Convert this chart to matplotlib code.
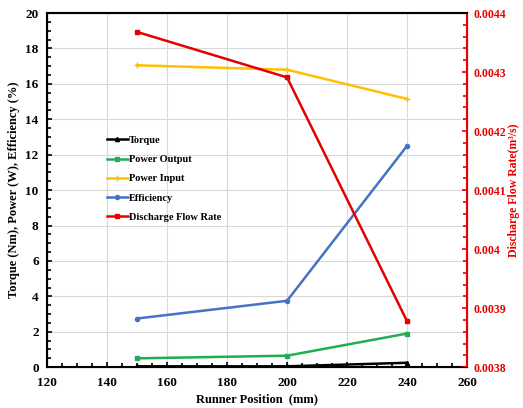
import matplotlib.pyplot as plt
from matplotlib.ticker import MultipleLocator

plt.rcParams['font.family'] = ['Liberation Serif', 'DejaVu Serif']
plt.rcParams['font.weight'] = 'bold'

# données
position = [150, 200, 240]
torque = [0.05, 0.05, 0.25]
power_output = [0.5, 0.65, 1.9]
power_input = [17.05, 16.8, 15.15]
efficiency = [2.75, 3.75, 12.5]
discharge = [0.004368, 0.004291, 0.003878]

fig = plt.figure(figsize=(5.23, 4.08), dpi=100)
ax = fig.add_axes([0.09, 0.1, 0.803, 0.868])
ax2 = ax.twinx()

l1, = ax.plot(position, torque, color='black', marker='^', markersize=3, lw=1.8, label='Torque')
l2, = ax.plot(position, power_output, color='#1fae52', marker='s', markersize=3.5, lw=1.8, label='Power Output')
l3, = ax.plot(position, power_input, color='#ffc000', marker='+', markersize=4, lw=1.8, label='Power Input')
l4, = ax.plot(position, efficiency, color='#4472c4', marker='o', markersize=3, lw=1.8, label='Efficiency')
l5, = ax2.plot(position, discharge, color='#e60000', marker='s', markersize=3.5, lw=1.8, label='Discharge Flow Rate')

ax.set_xlim(120, 260)
ax.set_ylim(0, 20)
ax2.set_ylim(0.0038, 0.0044)
ax.xaxis.set_major_locator(MultipleLocator(20))
ax.xaxis.set_minor_locator(MultipleLocator(5))
ax.yaxis.set_major_locator(MultipleLocator(2))
ax.yaxis.set_minor_locator(MultipleLocator(0.5))
ax2.yaxis.set_minor_locator(MultipleLocator(0.00002))
ax2.set_yticks([0.0038, 0.0039, 0.004, 0.0041, 0.0042, 0.0043, 0.0044])
ax2.set_yticklabels(['0.0038', '0.0039', '0.004', '0.0041', '0.0042', '0.0043', '0.0044'])

ax.grid(True, color='#d9d9d9', lw=0.8)
ax.set_axisbelow(True)

ax.tick_params(axis='both', which='both', direction='in', labelsize=9.5, width=1.2)
ax.tick_params(axis='x', which='major', pad=7)
ax.tick_params(axis='y', which='major', pad=6)
ax.tick_params(which='minor', length=3)
ax2.tick_params(axis='y', which='both', direction='in', labelsize=8.5, colors='#e60000', width=1.2, pad=5)
ax2.tick_params(which='minor', length=3)
for s in ['left', 'bottom', 'top']:
    ax.spines[s].set_linewidth(1.5)
ax2.spines['right'].set_color('#e60000')
ax2.spines['right'].set_linewidth(1.5)
ax2.spines['top'].set_linewidth(1.5)

ax.set_xlabel('Runner Position  (mm)', fontsize=9, fontweight='bold', labelpad=3)
ax.set_ylabel('Torque (Nm), Power (W), Efficiency (%)', fontsize=9, fontweight='bold', labelpad=4)
ax2.set_ylabel('Discharge Flow Rate(m³/s)', fontsize=8.5, fontweight='bold', color='#e60000', labelpad=1)

ax.legend(handles=[l1, l2, l3, l4, l5], loc='upper left', bbox_to_anchor=(0.12, 0.68),
          frameon=False, fontsize=7.5, handlelength=2.0, handletextpad=0.1, labelspacing=0.95)

fig.savefig('out.png', dpi=100)
